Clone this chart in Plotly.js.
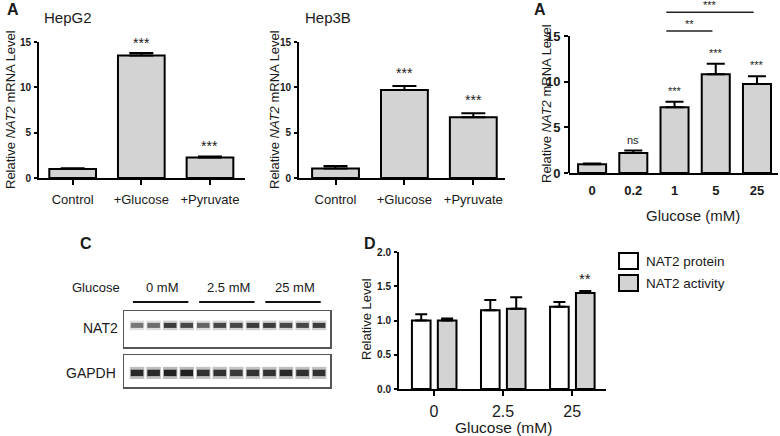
<!DOCTYPE html>
<html><head><meta charset="utf-8">
<script src="https://cdn.plot.ly/plotly-3.0.1.min.js"></script>
<style>html,body{margin:0;padding:0;background:#fff}#chart{width:780px;height:436px}</style>
</head><body><div id="chart"></div>
<script>
// ---------------- DATA ----------------
const treatCats = ['Control', '+Glucose', '+Pyruvate'];
const hepg2Vals = [1.0, 13.5, 2.25];
const hepg2Err = [0.07, 0.3, 0.13];
const hepg2Sig = ['', '***', '***'];
const hep3bVals = [1.05, 9.7, 6.7];
const hep3bErr = [0.28, 0.45, 0.45];
const hep3bSig = ['', '***', '***'];

const doseCats = ['0', '0.2', '1', '5', '25'];
const doseVals = [0.95, 2.2, 7.2, 10.8, 9.75];
const doseErr = [0.1, 0.25, 0.6, 1.15, 0.85];
const doseSig = ['', 'ns', '***', '***', '***'];
const doseBrackets = [['1', '25', '***'], ['1', '5', '**']];

const blotLanes = [1, 2, 3, 4, 5, 6, 7, 8, 9, 10, 11, 12];
const blotGroups = ['0 mM', '2.5 mM', '25 mM'];
const blotGroupLanes = [[1, 4], [5, 8], [9, 12]];
const nat2Band = [0.55, 0.6, 0.85, 0.8, 0.65, 0.8, 0.8, 0.85, 0.85, 0.8, 0.8, 0.85];
const gapdhBand = [0.95, 0.95, 1.0, 1.0, 0.9, 0.9, 0.85, 0.9, 0.9, 0.95, 0.9, 0.9];

const protCats = ['0', '2.5', '25'];
const proteinVals = [1.0, 1.15, 1.2];
const proteinErr = [0.09, 0.15, 0.07];
const activityVals = [1.0, 1.17, 1.4];
const activityErr = [0.03, 0.17, 0.03];
const activitySig = ['', '', '**'];
const seriesNames = ['NAT2 protein', 'NAT2 activity'];

// ---------------- HELPERS ----------------
const W = 780, H = 436;
const px = x => x / W;
const py = y => 1 - y / H;
const FONT = 'Arial, "Liberation Sans", sans-serif';
const TXT = '#1a1a1a';
const GRAY = '#d3d3d3';

function bars(xa, ya, cats, vals, errs, fill, width, offset, cap) {
  const t = {
    type: 'bar', x: cats, y: vals, xaxis: xa, yaxis: ya,
    width: width,
    marker: {color: fill, line: {color: '#000', width: 2}},
    error_y: {type: 'data', symmetric: false, array: errs, arrayminus: errs.map(() => 0),
              color: '#000', thickness: 2, width: cap},
    hoverinfo: 'skip', showlegend: false
  };
  if (offset !== undefined) t.offset = offset;
  return t;
}

function xAx(dom, anchor, range, font, ticklen, standoff) {
  return {domain: dom, anchor: anchor, type: 'category', range: range,
    showgrid: false, zeroline: false, showline: true, linecolor: '#000', linewidth: 2,
    ticks: ticklen > 0 ? 'outside' : '', ticklen: ticklen, tickwidth: 2, tickcolor: '#000',
    tickfont: font, ticklabelstandoff: standoff, fixedrange: true};
}
function yAx(dom, anchor, range, tickvals, font, ticklen, showline) {
  return {domain: dom, anchor: anchor, range: range, tickvals: tickvals,
    showgrid: false, zeroline: false, showline: showline, linecolor: '#000', linewidth: 2,
    ticks: 'outside', ticklen: ticklen, tickwidth: 2, tickcolor: '#000',
    tickfont: font, ticklabelstandoff: 1, fixedrange: true};
}

const traces = [];
const annotations = [];
const shapes = [];

function ann(o) {
  annotations.push(Object.assign({showarrow: false, xanchor: 'center', yanchor: 'middle',
    font: {family: FONT, size: 13, color: TXT}}, o));
}

// Panel A: HepG2
traces.push(bars('x', 'y', treatCats, hepg2Vals, hepg2Err, GRAY, 0.68, undefined, 12));
// Panel A: Hep3B
traces.push(bars('x2', 'y2', treatCats, hep3bVals, hep3bErr, GRAY, 0.68, undefined, 12));
// Panel A: glucose dose
traces.push(bars('x3', 'y3', doseCats, doseVals, doseErr, GRAY, 0.68, undefined, 9));
// Panel D
traces.push(bars('x4', 'y4', protCats, proteinVals, proteinErr, '#ffffff', 0.27, -0.32, 6));
traces.push(bars('x4', 'y4', protCats, activityVals, activityErr, GRAY, 0.27, 0.055, 6));

// Blots (band intensity drawn as soft bands)
function band(xa, ya, vals, center, h, halo) {
  traces.push({type: 'bar', x: blotLanes, y: blotLanes.map(() => h * 1.9), base: blotLanes.map(() => center - h * 0.95),
    xaxis: xa, yaxis: ya, width: 0.88, marker: {color: vals.map(v => 'rgba(30,30,30,' + (v * halo).toFixed(3) + ')'), line: {width: 0}},
    hoverinfo: 'skip', showlegend: false});
  traces.push({type: 'bar', x: blotLanes, y: blotLanes.map(() => h), base: blotLanes.map(() => center - h / 2),
    xaxis: xa, yaxis: ya, width: 0.76, marker: {color: vals.map(v => 'rgba(15,15,15,' + (v * 0.9).toFixed(3) + ')'), line: {width: 0}},
    hoverinfo: 'skip', showlegend: false});
}
band('x5', 'y5', nat2Band, 0.6, 0.14, 0.25);
band('x6', 'y6', gapdhBand, 0.44, 0.2, 0.3);

// Significance labels (positions by category index)
function sig(xa, ya, vals, errs, labels, size, shift, dx) {
  labels.forEach((s, i) => {
    if (!s) return;
    ann({xref: xa, yref: ya, x: i + (dx || 0), y: vals[i] + errs[i], yanchor: 'bottom', yshift: shift, text: s,
         font: {family: FONT, size: size, color: TXT}});
  });
}
sig('x', 'y', hepg2Vals, hepg2Err, hepg2Sig, 14, 0);
sig('x2', 'y2', hep3bVals, hep3bErr, hep3bSig, 14, 3);
sig('x3', 'y3', doseVals, doseErr, doseSig, 11, 3);
sig('x4', 'y4', activityVals, activityErr, activitySig, 15, 2, 0.18);

// Brackets in dose panel
const bracketLevels = [17.6, 15.55];
doseBrackets.forEach((b, k) => {
  const i0 = doseCats.indexOf(b[0]) - 0.2, i1 = doseCats.indexOf(b[1]) - 0.08;
  shapes.push({type: 'line', xref: 'x3', yref: 'y3', x0: i0, x1: i1, y0: bracketLevels[k], y1: bracketLevels[k],
               line: {color: '#222', width: 1.5}});
  ann({xref: 'x3', yref: 'y3', x: (i0 + i1) / 2, y: bracketLevels[k], yanchor: 'bottom', yshift: -1, text: b[2],
       font: {family: FONT, size: 11, color: TXT}});
});
// y axis line of dose panel (stops at 15)
shapes.push({type: 'line', xref: 'x3 domain', yref: 'y3', x0: 0, x1: 0, y0: 0, y1: 15, line: {color: '#000', width: 2}});

// Blot group lines and labels
blotGroupLanes.forEach((g, k) => {
  shapes.push({type: 'line', xref: 'x5', yref: 'paper', x0: g[0] - 0.25, x1: g[1] + 0.1, y0: py(302), y1: py(302),
               line: {color: '#111', width: 2}});
  ann({xref: 'x5', yref: 'paper', x: (g[0] + g[1]) / 2 + 0.05, y: py(287), text: blotGroups[k]});
});

// Legend for panel D (manual)
[['#ffffff', 261], [GRAY, 283]].forEach((l, k) => {
  shapes.push({type: 'rect', xref: 'paper', yref: 'paper', x0: px(619), x1: px(638), y0: py(l[1] - 8), y1: py(l[1] + 8),
               fillcolor: l[0], line: {color: '#000', width: 2}});
  ann({xref: 'paper', yref: 'paper', x: px(644), y: py(l[1]), xanchor: 'left', text: seriesNames[k],
       font: {family: FONT, size: 13.5, color: TXT}});
});

// Titles & labels
const yTitle = 'Relative <i>NAT2</i> mRNA Level';
ann({xref: 'paper', yref: 'paper', x: px(5), y: py(10), xanchor: 'left', text: '<b>A</b>', font: {family: FONT, size: 16, color: TXT}});
ann({xref: 'paper', yref: 'paper', x: px(68), y: py(17), text: 'HepG2', font: {family: FONT, size: 15, color: TXT}});
ann({xref: 'paper', yref: 'paper', x: px(328), y: py(17), text: 'Hep3B', font: {family: FONT, size: 15, color: TXT}});
ann({xref: 'paper', yref: 'paper', x: px(11), y: py(110), textangle: -90, text: yTitle});
ann({xref: 'paper', yref: 'paper', x: px(275), y: py(110), textangle: -90, text: yTitle});
ann({xref: 'paper', yref: 'paper', x: px(532), y: py(10), xanchor: 'left', text: '<b>A</b>', font: {family: FONT, size: 16, color: TXT}});
ann({xref: 'paper', yref: 'paper', x: px(546), y: py(104), textangle: -90, text: yTitle});
ann({xref: 'paper', yref: 'paper', x: px(693), y: py(215), text: 'Glucose (mM)', font: {family: FONT, size: 15, color: TXT}});
ann({xref: 'paper', yref: 'paper', x: px(78), y: py(243), xanchor: 'left', text: '<b>C</b>', font: {family: FONT, size: 16, color: TXT}});
ann({xref: 'paper', yref: 'paper', x: px(362), y: py(243), xanchor: 'left', text: '<b>D</b>', font: {family: FONT, size: 16, color: TXT}});
ann({xref: 'paper', yref: 'paper', x: px(122), y: py(287), xanchor: 'right', text: 'Glucose'});
ann({xref: 'paper', yref: 'paper', x: px(120), y: py(328), xanchor: 'right', text: 'NAT2', font: {family: FONT, size: 14, color: TXT}});
ann({xref: 'paper', yref: 'paper', x: px(118), y: py(373), xanchor: 'right', text: 'GAPDH', font: {family: FONT, size: 14, color: TXT}});
ann({xref: 'paper', yref: 'paper', x: px(366), y: py(319), textangle: -90, text: 'Relative Level'});
ann({xref: 'paper', yref: 'paper', x: px(503), y: py(427), text: 'Glucose (mM)', font: {family: FONT, size: 15.5, color: TXT}});

const fReg13 = {family: FONT, size: 13, color: TXT};
const fBold10 = {family: FONT, size: 10, color: TXT, weight: 700};
const fBold13 = {family: FONT, size: 13, color: TXT, weight: 700};

const layout = {
  width: W, height: H, margin: {l: 0, r: 0, t: 0, b: 0},
  paper_bgcolor: '#fff', plot_bgcolor: 'rgba(0,0,0,0)',
  barmode: 'overlay', showlegend: false,
  xaxis: xAx([px(39), px(245)], 'y', [-0.49, 2.51], fReg13, 5, 3),
  yaxis: yAx([py(178), py(42)], 'x', [0, 15], [0, 5, 10, 15], fBold10, 3, true),
  xaxis2: xAx([px(299), px(505)], 'y2', [-0.53, 2.46], fReg13, 5, 3),
  yaxis2: yAx([py(178), py(42)], 'x2', [0, 15], [0, 5, 10, 15], fBold10, 3, true),
  xaxis3: xAx([px(569), px(778)], 'y3', [-0.56, 4.51], fBold13, 0, 4),
  yaxis3: yAx([py(173), 1], 'x3', [0, 173 / 9.134], [0, 5, 10, 15], fBold13, 4, false),
  xaxis4: xAx([px(399), px(606)], 'y4', [-0.507, 2.49], {family: FONT, size: 16, color: TXT}, 5, 2),
  yaxis4: yAx([py(389), py(252)], 'x4', [0, 2], [0, 0.5, 1, 1.5, 2], fBold10, 3, true),
  xaxis5: {domain: [px(124), px(330)], anchor: 'y5', range: [0.21, 12.66], showline: true, mirror: true, linecolor: '#555', linewidth: 1.5,
           showticklabels: false, ticks: '', showgrid: false, zeroline: false, fixedrange: true},
  yaxis5: {domain: [py(347), py(311)], anchor: 'x5', range: [0, 1], showline: true, mirror: true, linecolor: '#555', linewidth: 1.5,
           showticklabels: false, ticks: '', showgrid: false, zeroline: false, fixedrange: true},
  xaxis6: {domain: [px(124), px(330)], anchor: 'y6', range: [0.21, 12.66], showline: true, mirror: true, linecolor: '#555', linewidth: 1.5,
           showticklabels: false, ticks: '', showgrid: false, zeroline: false, fixedrange: true},
  yaxis6: {domain: [py(387), py(355)], anchor: 'x6', range: [0, 1], showline: true, mirror: true, linecolor: '#555', linewidth: 1.5,
           showticklabels: false, ticks: '', showgrid: false, zeroline: false, fixedrange: true},
  annotations: annotations,
  shapes: shapes,
  font: {family: FONT, color: TXT}
};
layout.yaxis4.tickformat = '.1f';

Plotly.newPlot('chart', traces, layout, {displayModeBar: false, staticPlot: true});
</script>
</body></html>
